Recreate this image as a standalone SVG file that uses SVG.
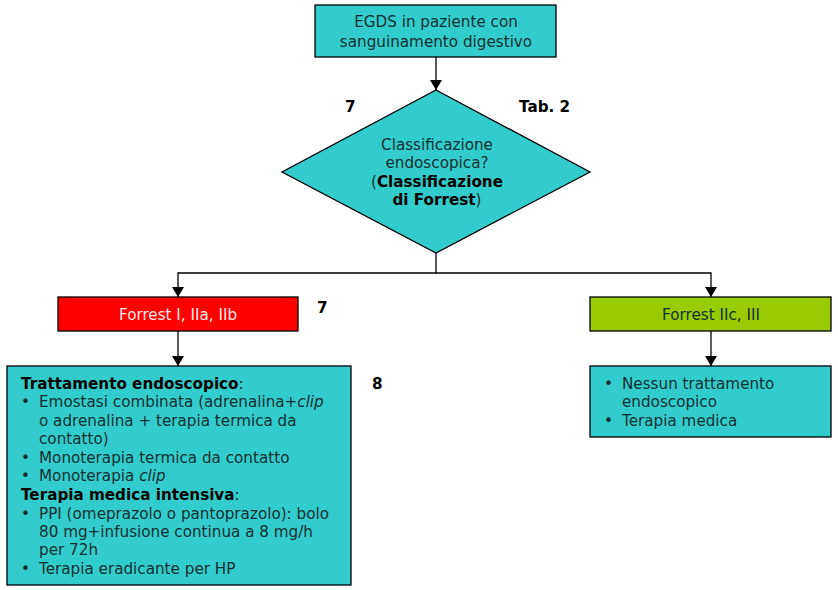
<svg xmlns="http://www.w3.org/2000/svg" width="838" height="590" viewBox="0 0 838 590">
<style>
text{font-family:"DejaVu Sans",Verdana,sans-serif;font-size:15.2px;fill:#123030}
.c{text-anchor:middle}
.b{font-weight:bold;fill:#000}
.box{stroke:#000;stroke-width:1.3}
.ln{stroke:#000;stroke-width:1.3;fill:none}
</style>
<defs>
<marker id="ah" viewBox="0 0 10 12" refX="10" refY="6" markerWidth="12" markerHeight="12" markerUnits="userSpaceOnUse" orient="auto">
<path d="M0,0 L10,6 L0,12 z" fill="#000"/>
</marker>
</defs>
<rect width="838" height="590" fill="#fff"/>
<g id="connectors">
<path class="ln" d="M436,57 V90" marker-end="url(#ah)"/>
<path class="ln" d="M436,253 V273 H178 V297" marker-end="url(#ah)"/>
<path class="ln" d="M436,273 H711 V297" marker-end="url(#ah)"/>
<path class="ln" d="M178,331 V366" marker-end="url(#ah)"/>
<path class="ln" d="M711,331 V366" marker-end="url(#ah)"/>
</g>
<g id="start">
<rect class="box" x="315" y="5" width="241" height="52" fill="#33CCCC"/>
<text class="c" x="436" y="27">EGDS in paziente con</text>
<text class="c" x="436" y="47">sanguinamento digestivo</text>
</g>
<g id="decision">
<polygon class="box" points="436,90 590,172 436,253 282,172" fill="#33CCCC"/>
<text class="c" x="437" y="150">Classificazione</text>
<text class="c" x="437" y="168">endoscopica?</text>
<text class="c" x="437" y="187">(<tspan class="b">Classificazione</tspan></text>
<text class="c" x="437" y="205"><tspan class="b">di Forrest</tspan>)</text>
</g>
<g id="labels">
<text class="b" x="345" y="112">7</text>
<text class="b" x="519" y="112">Tab. 2</text>
<text class="b" x="317" y="313">7</text>
<text class="b" x="372" y="389">8</text>
</g>
<g id="forrest-high">
<rect class="box" x="58" y="297" width="240" height="34" fill="#FF0000"/>
<text class="c" x="178" y="320" style="fill:#ffe8e8">Forrest I, IIa, IIb</text>
</g>
<g id="forrest-low">
<rect class="box" x="590" y="297" width="241" height="34" fill="#99CC00"/>
<text class="c" x="711" y="320">Forrest IIc, III</text>
</g>
<g id="treat-high">
<rect class="box" x="7" y="366" width="344" height="219" fill="#33CCCC"/>
<text x="21" y="389"><tspan class="b">Trattamento endoscopico</tspan>:</text>
<text x="21" y="407">•</text><text x="39" y="407">Emostasi combinata (adrenalina+<tspan font-style="italic">clip</tspan></text>
<text x="39" y="426">o adrenalina + terapia termica da</text>
<text x="39" y="444">contatto)</text>
<text x="21" y="463">•</text><text x="39" y="463">Monoterapia termica da contatto</text>
<text x="21" y="481">•</text><text x="39" y="481">Monoterapia <tspan font-style="italic">clip</tspan></text>
<text x="21" y="500"><tspan class="b">Terapia medica intensiva</tspan>:</text>
<text x="21" y="519">•</text><text x="39" y="519">PPI (omeprazolo o pantoprazolo): bolo</text>
<text x="39" y="537">80 mg+infusione continua a 8 mg/h</text>
<text x="39" y="555">per 72h</text>
<text x="21" y="574">•</text><text x="39" y="574">Terapia eradicante per HP</text>
</g>
<g id="treat-low">
<rect class="box" x="590" y="366" width="241" height="71" fill="#33CCCC"/>
<text x="604" y="389">•</text><text x="622" y="389">Nessun trattamento</text>
<text x="622" y="407">endoscopico</text>
<text x="604" y="426">•</text><text x="622" y="426">Terapia medica</text>
</g>
</svg>
